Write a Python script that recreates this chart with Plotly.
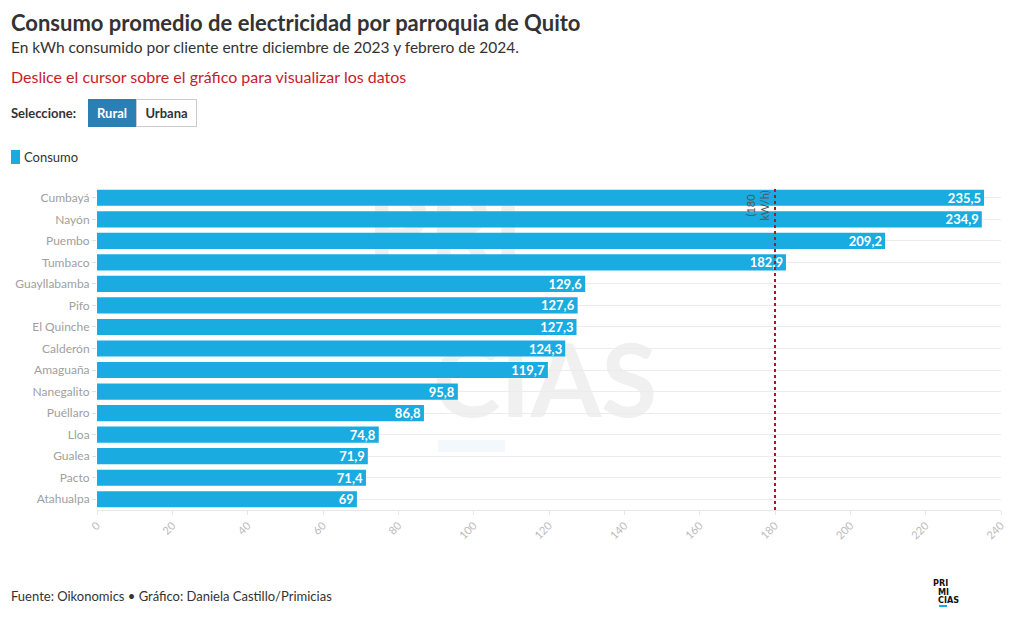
import plotly.graph_objects as go

parroquias = ["Cumbayá", "Nayón", "Puembo", "Tumbaco", "Guayllabamba", "Pifo", "El Quinche",
              "Calderón", "Amaguaña", "Nanegalito", "Puéllaro", "Lloa", "Gualea", "Pacto", "Atahualpa"]
consumo = [235.5, 234.9, 209.2, 182.9, 129.6, 127.6, 127.3, 124.3, 119.7, 95.8, 86.8, 74.8, 71.9, 71.4, 69]
x_ticks = [0, 20, 40, 60, 80, 100, 120, 140, 160, 180, 200, 220, 240]
referencia = 180

FONT = "Lato"
BAR = "#1aabe0"

# plot area in pixels: x 97..1001, y 187..510
PL, PW, PT, PB = 97, 904, 187, 510
PH = PB - PT


def px(x):
    return (x - PL) / PW


def py(y):
    return (PB - y) / PH


labels = [f"{v:g}".replace(".", ",") for v in consumo]

fig = go.Figure()
fig.add_trace(go.Bar(
    y=parroquias, x=consumo, orientation="h", name="Consumo",
    marker=dict(color=BAR, line=dict(width=0)),
    text=labels, textposition="inside", insidetextanchor="end", textangle=0,
    constraintext="none",
    textfont=dict(family=FONT, size=13, color="white", weight="bold"),
    showlegend=False,
))

fig.add_shape(type="line", xref="x", yref="paper", x0=referencia, x1=referencia, y0=0, y1=1,
              line=dict(color="#b0161c", width=2, dash="dot"), layer="above")
fig.add_annotation(xref="x", yref="paper", x=referencia, y=1, xanchor="right", yanchor="top",
                   text="(180<br>kW/h)", textangle=-90, showarrow=False, xshift=-3, yshift=-2,
                   font=dict(family=FONT, size=11, color="#555"))

# watermark (below the bars)
fig.add_shape(type="rect", xref="paper", yref="paper", x0=0.385 - 0.12, x1=0.385 + 0.12,
              y0=0.882 - 0.2, y1=0.882 + 0.2,
              line=dict(width=0), fillcolor="rgba(0,0,0,0)", layer="below",
              label=dict(text="PRI", font=dict(family=FONT, size=100, color="#f0f0f0", weight="bold")))
fig.add_shape(type="rect", xref="paper", yref="paper", x0=0.4956 - 0.17, x1=0.4956 + 0.17,
              y0=0.412 - 0.15, y1=0.412 + 0.15,
              line=dict(width=0), fillcolor="rgba(0,0,0,0)", layer="below",
              label=dict(text="CIAS", font=dict(family=FONT, size=102, color="#f0f0f0", weight="bold")))
fig.add_shape(type="rect", xref="paper", yref="paper", x0=px(438), x1=px(505), y0=py(452), y1=py(440),
              line=dict(width=0), fillcolor="#f2f8fc", layer="below")

# legend swatch
fig.add_shape(type="rect", xref="paper", yref="paper", x0=px(11), x1=px(20), y0=py(164), y1=py(150),
              line=dict(width=0), fillcolor=BAR, layer="above")
# logo underline
fig.add_shape(type="rect", xref="paper", yref="paper", x0=px(939), x1=px(947), y0=py(607), y1=py(605),
              line=dict(width=0), fillcolor="#1aabe0", layer="above")

ann = []
ann.append(dict(x=px(9), y=py(23), xanchor="left", yanchor="middle",
                text="<b>Consumo promedio de electricidad por parroquia de Quito</b>",
                font=dict(family=FONT, size=22, color="#333")))
ann.append(dict(x=px(9), y=py(47), xanchor="left", yanchor="middle",
                text="En kWh consumido por cliente entre diciembre de 2023 y febrero de 2024.",
                font=dict(family=FONT, size=15.5, color="#333")))
ann.append(dict(x=px(9), y=py(76), xanchor="left", yanchor="middle",
                text="Deslice el cursor sobre el gráfico para visualizar los datos",
                font=dict(family=FONT, size=16, color="#c8202a")))
ann.append(dict(x=px(9), y=py(113), xanchor="left", yanchor="middle",
                text="<b>Seleccione:</b>", font=dict(family=FONT, size=13, color="#333")))
ann.append(dict(x=px(88), y=py(113), xanchor="left", yanchor="middle",
                text="<b>Rural</b>", width=46, height=26, bgcolor="#2a7fb4", bordercolor="#2a7fb4",
                borderwidth=1, borderpad=0, font=dict(family=FONT, size=13, color="white")))
ann.append(dict(x=px(136), y=py(113), xanchor="left", yanchor="middle",
                text="<b>Urbana</b>", width=59, height=26, bgcolor="white", bordercolor="#cccccc",
                borderwidth=1, borderpad=0, font=dict(family=FONT, size=13, color="#333")))
ann.append(dict(x=px(22), y=py(157), xanchor="left", yanchor="middle",
                text="Consumo", font=dict(family=FONT, size=13, color="#333")))
ann.append(dict(x=px(9), y=py(596), xanchor="left", yanchor="middle",
                text="Fuente: Oikonomics • Gráfico: Daniela Castillo/Primicias",
                font=dict(family=FONT, size=13, color="#333")))
for t, xx, yy in [("PRI", 931, 583), ("MI", 936, 592), ("CIAS", 936, 600)]:
    ann.append(dict(x=px(xx), y=py(yy), xanchor="left", yanchor="middle",
                    text=f"<b>{t}</b>",
                    font=dict(family="DejaVu Sans Condensed", size=9, color="#111")))
for a in ann:
    a["showarrow"] = False
    a["xref"] = "paper"
    a["yref"] = "paper"
    fig.add_annotation(**a)

fig.update_layout(
    width=1020, height=644,
    margin=dict(l=PL, r=1020 - PL - PW, t=PT, b=644 - PB, autoexpand=False),
    paper_bgcolor="white", plot_bgcolor="white",
    font=dict(family=FONT, color="#333"),
    bargap=0.25,
    showlegend=False,
    xaxis=dict(range=[0, 240], tickvals=x_ticks, ticktext=[str(t) for t in x_ticks],
               tickangle=-45, tickfont=dict(family=FONT, size=11, color="#bbb"),
               showgrid=False, zeroline=False, showline=True, linecolor="#e6e6e6",
               ticks="outside", ticklen=4, tickcolor="#e6e6e6", fixedrange=True,
               automargin=False),
    yaxis=dict(autorange="reversed", tickfont=dict(family=FONT, size=12, color="#a0a0a0"),
               showgrid=True, gridcolor="#ececec", ticks="outside", ticklen=4,
               tickcolor="#e0e0e0", showline=False, fixedrange=True, automargin=False),
)

fig.write_html("out.html", config={"displayModeBar": False},
               post_script="document.body.style.margin='0';")
